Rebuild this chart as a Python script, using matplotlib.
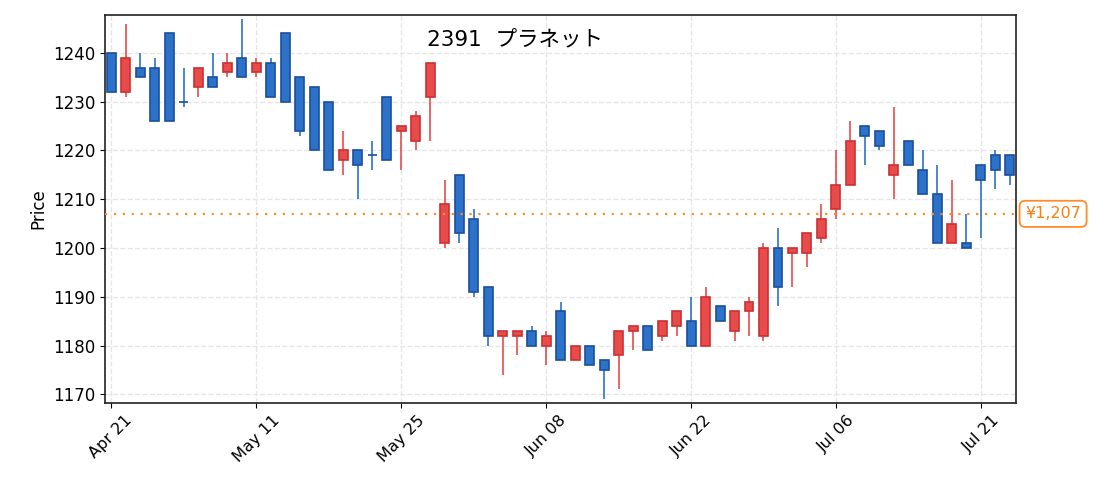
import numpy as np
import matplotlib
matplotlib.use("Agg")
import matplotlib.pyplot as plt
import matplotlib.transforms as mtransforms

plt.rcParams['font.family'] = ['DejaVu Sans', 'Noto Sans CJK JP']

title = "2391  プラネット"

# trading days (2022)
dates = [
    "Apr 21", "Apr 22", "Apr 25", "Apr 26", "Apr 27", "Apr 28",
    "May 02", "May 06", "May 09", "May 10", "May 11", "May 12", "May 13",
    "May 16", "May 17", "May 18", "May 19", "May 20", "May 23", "May 24",
    "May 25", "May 26", "May 27", "May 30", "May 31",
    "Jun 01", "Jun 02", "Jun 03", "Jun 06", "Jun 07", "Jun 08", "Jun 09",
    "Jun 10", "Jun 13", "Jun 14", "Jun 15", "Jun 16", "Jun 17", "Jun 20",
    "Jun 21", "Jun 22", "Jun 23", "Jun 24", "Jun 27", "Jun 28", "Jun 29",
    "Jun 30",
    "Jul 01", "Jul 04", "Jul 05", "Jul 06", "Jul 07", "Jul 08", "Jul 11",
    "Jul 12", "Jul 13", "Jul 14", "Jul 15", "Jul 19", "Jul 20", "Jul 21",
    "Jul 22", "Jul 25",
]

opens = [1240, 1232, 1237, 1237, 1244, 1230, 1233, 1235, 1236, 1239,
         1236, 1238, 1244, 1235, 1233, 1230, 1218, 1220, 1219, 1231,
         1224, 1222, 1231, 1201, 1215, 1206, 1192, 1182, 1182, 1183,
         1180, 1187, 1177, 1180, 1177, 1178, 1183, 1184, 1182, 1184,
         1185, 1180, 1188, 1183, 1187, 1182, 1200, 1199, 1199, 1202,
         1208, 1213, 1225, 1224, 1215, 1222, 1216, 1211, 1201, 1201,
         1217, 1219, 1219]
highs = [1240, 1246, 1240, 1239, 1244, 1237, 1237, 1240, 1240, 1247,
         1239, 1239, 1244, 1235, 1233, 1230, 1224, 1220, 1222, 1231,
         1225, 1228, 1238, 1214, 1215, 1208, 1192, 1183, 1183, 1184,
         1183, 1189, 1180, 1180, 1177, 1183, 1184, 1184, 1185, 1187,
         1190, 1192, 1188, 1187, 1190, 1201, 1204, 1200, 1203, 1209,
         1220, 1226, 1225, 1224, 1229, 1222, 1220, 1217, 1214, 1207,
         1217, 1220, 1219]
lows = [1232, 1231, 1235, 1226, 1226, 1229, 1231, 1233, 1235, 1235,
        1235, 1231, 1230, 1223, 1220, 1216, 1215, 1210, 1216, 1218,
        1216, 1220, 1222, 1200, 1201, 1190, 1180, 1174, 1178, 1180,
        1176, 1177, 1177, 1176, 1169, 1171, 1179, 1179, 1181, 1182,
        1180, 1180, 1185, 1181, 1182, 1181, 1188, 1192, 1196, 1201,
        1206, 1213, 1217, 1220, 1210, 1217, 1211, 1201, 1201, 1200,
        1202, 1212, 1213]
closes = [1232, 1239, 1235, 1226, 1226, 1230, 1237, 1233, 1238, 1235,
          1238, 1231, 1230, 1224, 1220, 1216, 1220, 1217, 1219, 1218,
          1225, 1227, 1238, 1209, 1203, 1191, 1182, 1183, 1183, 1180,
          1182, 1177, 1180, 1176, 1175, 1183, 1184, 1179, 1185, 1187,
          1180, 1190, 1185, 1187, 1189, 1200, 1192, 1200, 1203, 1206,
          1213, 1222, 1223, 1221, 1217, 1217, 1211, 1201, 1205, 1200,
          1214, 1216, 1215]

ref_price = 1207

o = np.array(opens)
h = np.array(highs)
l = np.array(lows)
c = np.array(closes)
x = np.arange(len(dates))
up = c > o

up_face, up_edge = "#e84b4b", "#cc3030"
dn_face, dn_edge = "#2c72c8", "#1a4f9f"

fig = plt.figure(figsize=(10.95, 4.92), dpi=100)
ax = fig.add_axes([0.0959, 0.181, 0.832, 0.7885])

# wicks
ax.vlines(x[up], l[up], h[up], color=up_face, lw=1.2, zorder=2)
ax.vlines(x[~up], l[~up], h[~up], color=dn_face, lw=1.2, zorder=2)

# bodies
ax.bar(x[up], (c - o)[up], bottom=o[up], width=0.62, color=up_face,
       edgecolor=up_edge, linewidth=1.2, zorder=3)
ax.bar(x[~up], (o - c)[~up], bottom=c[~up], width=0.62, color=dn_face,
       edgecolor=dn_edge, linewidth=1.2, zorder=3)

ax.axhline(ref_price, color="#ff8c2a", ls=(0, (1, 3)), lw=1.6, zorder=4)
trans = mtransforms.blended_transform_factory(ax.transAxes, ax.transData)
ax.text(1.01, ref_price, "¥{:,}".format(ref_price), transform=trans,
        ha="left", va="center", fontsize=11.5, color="#ff7f0e",
        bbox=dict(boxstyle="round,pad=0.35", fc="white", ec="#ff8c2a", lw=1.3))

rng = h.max() - l.min()
ax.set_ylim(l.min() - 0.01 * rng, h.max() + 0.01 * rng)
ax.set_xlim(-0.42, len(dates) - 1 + 0.42)

ticks = x[::10]
ax.set_xticks(ticks)
ax.set_xticklabels([dates[i] for i in ticks], rotation=45, fontsize=11.5)
ax.set_yticks(np.arange(1170, 1241, 10))
ax.tick_params(axis="y", labelsize=12)
ax.set_ylabel("Price", fontsize=12)

ax.grid(True, ls="--", color="#e6e6e6", lw=1)
ax.set_axisbelow(True)
for s in ax.spines.values():
    s.set_linewidth(1.2)
    s.set_color("#222222")

ax.text(0.45, 0.935, title, transform=ax.transAxes, ha="center", va="center",
        fontsize=15.5)

fig.savefig("out.png", dpi=100)
